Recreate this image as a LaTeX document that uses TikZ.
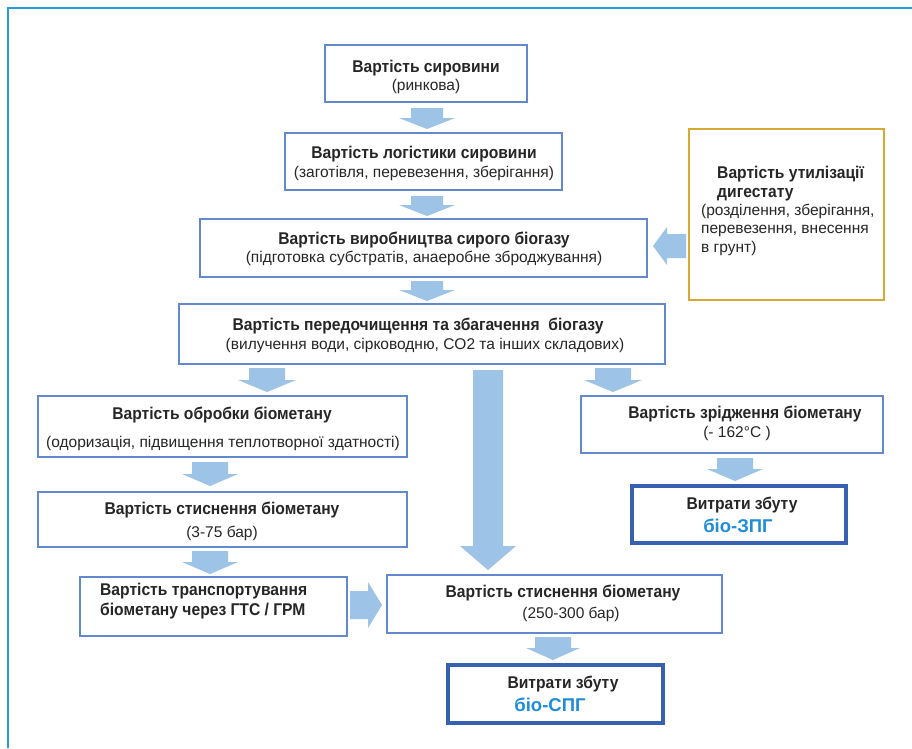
\documentclass[tikz,border=0pt]{standalone}
\usepackage{fontspec}
\setmainfont{Liberation Sans}
\newfontfamily\condfont{Liberation Sans}[FakeStretch=0.92]

\definecolor{boxblue}{RGB}{98,137,205}
\definecolor{deepblue}{RGB}{56,96,176}
\definecolor{arrowblue}{RGB}{157,195,230}
\definecolor{frameblue}{RGB}{40,155,220}
\definecolor{gold}{RGB}{214,168,52}
\definecolor{ink}{RGB}{38,38,38}
\definecolor{biotext}{RGB}{30,140,215}

\tikzset{
  costbox/.style={draw=boxblue, line width=2pt, fill=white, inner sep=0pt},
  salebox/.style={draw=deepblue, line width=3.5pt, fill=white, inner sep=0pt},
  digbox/.style={draw=gold, line width=2.5pt, fill=white, inner sep=0pt},
  ttl/.style={font=\condfont\bfseries\fontsize{17}{19}\selectfont, text=ink, anchor=base, inner sep=0pt},
  ttlleft/.style={ttl, anchor=base west},
  subtxt/.style={font=\fontsize{15.5}{18}\selectfont, text=ink, anchor=base, inner sep=0pt},
  subleft/.style={subtxt, anchor=base west},
  biolabel/.style={font=\bfseries\fontsize{18.5}{21}\selectfont, text=biotext, anchor=base, inner sep=0pt},
  blockarrow/.style={fill=arrowblue},
}

% downward block arrow: x, y top, y tip, shaft half width, head half width, head length
\newcommand\dnarrow[6]{%
  \fill[blockarrow] (#1-#4,#2) -- (#1+#4,#2) -- (#1+#4,#3-#6) -- (#1+#5,#3-#6)
    -- (#1,#3) -- (#1-#5,#3-#6) -- (#1-#4,#3-#6) -- cycle;}
% horizontal block arrow: x tail, x tip, y, shaft half width, head half width, head length (signed)
\newcommand\hzarrow[6]{%
  \fill[blockarrow] (#1,#3-#4) -- (#2-#6,#3-#4) -- (#2-#6,#3-#5) -- (#2,#3)
    -- (#2-#6,#3+#5) -- (#2-#6,#3+#4) -- (#1,#3+#4) -- cycle;}

\begin{document}
\begin{tikzpicture}[x=1pt, y=-1pt]
\useasboundingbox (0,0) rectangle (912,748);
\fill[white] (0,0) rectangle (912,748);

% outer frame (top and left edges)
\draw[frameblue, line width=2.5pt] (8,748) -- (8,8) -- (912,8);

% boxes
\node[costbox, minimum width=202pt, minimum height=57pt] (b1) at (426,73.5) {};
\node[costbox, minimum width=277pt, minimum height=57pt] (b2) at (423.5,161.5) {};
\node[costbox, minimum width=447pt, minimum height=58pt] (b3) at (423.5,248) {};
\node[costbox, minimum width=486pt, minimum height=60pt] (b4) at (422,334) {};
\node[costbox, minimum width=369pt, minimum height=61pt] (b5) at (222.5,426.5) {};
\node[costbox, minimum width=369pt, minimum height=55pt] (b6) at (222.5,519.5) {};
\node[costbox, minimum width=267pt, minimum height=59pt] (b7) at (213.5,606.5) {};
\node[costbox, minimum width=335pt, minimum height=58pt] (b8) at (554.5,604) {};
\node[salebox, minimum width=215pt, minimum height=58pt] (b9) at (555.5,694) {};
\node[costbox, minimum width=302pt, minimum height=57pt] (b10) at (732,424.5) {};
\node[salebox, minimum width=214pt, minimum height=57pt] (b11) at (739,514.5) {};
\node[digbox, minimum width=195pt, minimum height=171pt] (dg) at (786.5,214.5) {};

% box texts
\node[ttl] (b1t) at (426,72) {Вартість сировини};
\node[subtxt] (b1s) at (426,90) {(ринкова)};

\node[ttl] (b2t) at (424,158) {Вартість логістики сировини};
\node[subtxt] (b2s) at (424,177) {(заготівля, перевезення, зберігання)};

\node[ttl] (b3t) at (424,244) {Вартість виробництва сирого біогазу};
\node[subtxt] (b3s) at (424,262) {(підготовка субстратів, анаеробне зброджування)};

\node[ttl] (b4t) at (418,330) {Вартість передочищення та збагачення\ \ біогазу};
\node[subtxt] (b4s) at (425,349) {(вилучення води, сірководню, CO2 та інших складових)};

\node[ttl] (b5t) at (222,419) {Вартість обробки біометану};
\node[subtxt] (b5s) at (223,447) {(одоризація, підвищення теплотворної здатності)};

\node[ttl] (b6t) at (222,514) {Вартість стиснення біометану};
\node[subtxt] (b6s) at (222,537) {(3-75 бар)};

\node[ttlleft] (b7a) at (100,595) {Вартість транспортування};
\node[ttlleft] (b7b) at (100,615) {біометану через ГТС / ГРМ};

\node[ttl] (b8t) at (563,597) {Вартість стиснення біометану};
\node[subtxt] (b8s) at (571,618) {(250-300 бар)};

\node[ttl] (b9t) at (563,688) {Витрати збуту};
\node[biolabel] (b9s) at (550,711) {біо-СПГ};

\node[ttl] (b10t) at (745,418) {Вартість зрідження біометану};
\node[subtxt] (b10s) at (737,437) {(- 162°C )};

\node[ttl] (b11t) at (742,509) {Витрати збуту};
\node[biolabel] (b11s) at (738,532) {біо-ЗПГ};

\node[ttlleft] (dga) at (717,178) {Вартість утилізації};
\node[ttlleft] (dgb) at (717,197) {дигестату};
\node[subleft] (dgc) at (701,215) {(розділення, зберігання,};
\node[subleft] (dgd) at (701,233.5) {перевезення, внесення};
\node[subleft] (dge) at (701,252) {в грунт)};

% block arrows
\dnarrow{427}{108}{129}{16}{28}{11}
\dnarrow{427}{196}{216}{16}{28}{11}
\dnarrow{427}{281}{301}{16}{28}{11}
\dnarrow{267}{368}{392}{18}{29}{12}
\dnarrow{613}{368}{392}{18}{29}{12}
\dnarrow{488}{370}{570}{15}{28}{24}
\dnarrow{210}{462}{486}{18}{28}{12}
\dnarrow{210}{551}{574}{18}{28}{12}
\dnarrow{735}{458}{481}{18}{28}{12}
\dnarrow{553}{637}{660}{18}{27}{12}
\hzarrow{350}{382}{605}{14}{23}{14}
\hzarrow{686}{653}{246}{12}{19}{-14}
\end{tikzpicture}
\end{document}
